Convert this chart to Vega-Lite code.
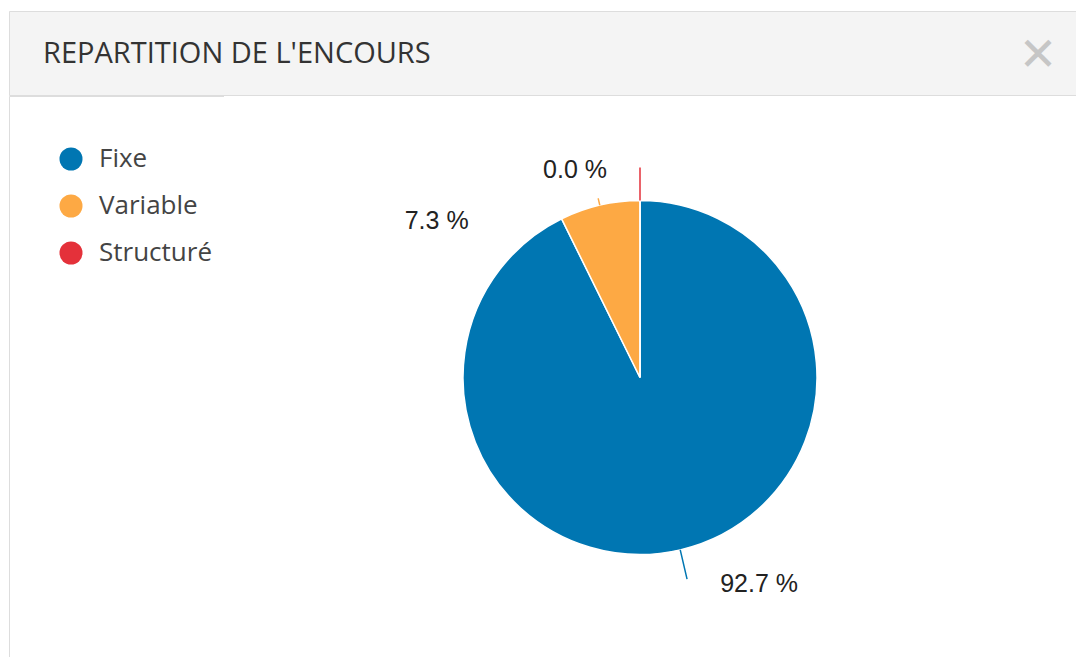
{
  "$schema": "https://vega.github.io/schema/vega-lite/v6.json",
  "padding": {"left": 8, "top": 10, "right": 0, "bottom": 0},
  "background": "#ffffff",
  "bounds": "flush",
  "spacing": 1,
  "config": {"view": {"stroke": null}},
  "vconcat": [
    {
      "width": 1068,
      "height": 84,
      "view": {"fill": "#f4f4f4", "stroke": "#dddddd"},
      "title": {
        "text": "REPARTITION DE L'ENCOURS",
        "anchor": "start",
        "orient": "top",
        "offset": -58,
        "dx": 34,
        "font": "Open Sans",
        "fontSize": 29,
        "fontWeight": "normal",
        "color": "#333333"
      },
      "data": {"values": [{"icon": "✕"}]},
      "mark": {"type": "text", "font": "DejaVu Sans", "fontSize": 46, "color": "#c6c6c6", "align": "center", "baseline": "middle", "dx": -39, "dy": 3},
      "encoding": {"x": {"value": "width"}, "text": {"field": "icon"}}
    },
    {
      "bounds": "flush",
      "spacing": -2,
      "resolve": {"scale": {"color": "independent", "theta": "independent"}, "legend": {"color": "independent"}},
      "hconcat": [
        {
          "width": 215,
          "height": 563,
          "view": {"fill": "#ffffff", "stroke": "#dddddd"},
          "data": {"values": [
            {"cat": "Fixe", "value": 92.7},
            {"cat": "Variable", "value": 7.3},
            {"cat": "Structuré", "value": 0}
          ]},
          "mark": {"type": "text", "text": ""},
          "encoding": {
            "color": {
              "field": "cat", "type": "nominal",
              "scale": {"domain": ["Fixe", "Variable", "Structuré"], "range": ["#0076b2", "#fda944", "#e4313a"]},
              "legend": {
                "title": null, "orient": "none", "legendX": 49, "legendY": 50,
                "symbolType": "circle", "symbolSize": 530, "symbolStrokeWidth": 0, "symbolOpacity": 1,
                "labelFont": "Open Sans", "labelFontSize": 26, "labelColor": "#444444",
                "labelOffset": 15, "rowPadding": 21, "padding": 0
              }
            }
          }
        },
        {
          "width": 832,
          "height": 563,
          "view": {"fill": "#ffffff", "stroke": null},
          "data": {"values": [
            {"cat": "Fixe", "value": 92.7, "label": "92.7 %"},
            {"cat": "Variable", "value": 7.3, "label": "7.3 %"},
            {"cat": "Structuré", "value": 0, "label": "0.0 %"}
          ]},
          "resolve": {"scale": {"theta": "independent"}},
          "layer": [
            {
              "mark": {"type": "arc", "radius": 177, "stroke": "#ffffff", "strokeWidth": 1.5},
              "encoding": {
                "theta": {"field": "value", "type": "quantitative", "stack": true},
                "order": {"field": "value", "sort": "descending"},
                "color": {
                  "field": "cat", "type": "nominal",
                  "scale": {"domain": ["Fixe", "Variable", "Structuré"], "range": ["#0076b2", "#fda944", "#e4313a"]},
                  "legend": null
                }
              }
            },
            {
              "mark": {"type": "arc", "radius": 207, "radius2": 177, "filled": false, "stroke": "#0076b2", "strokeWidth": 1.5},
              "encoding": {
                "theta": {"field": "value", "type": "quantitative", "stack": null, "scale": {"domain": [0, 200]}},
                "theta2": {"field": "value"},
                "strokeOpacity": {"condition": {"test": "datum.cat === 'Fixe'", "value": 1}, "value": 0}
              }
            },
            {
              "mark": {"type": "arc", "radius": 184, "radius2": 177, "padAngle": 0.6, "filled": false, "stroke": "#fda944", "strokeWidth": 1.5},
              "encoding": {
                "theta": {"field": "value", "type": "quantitative", "stack": true},
                "order": {"field": "value", "sort": "descending"},
                "detail": {"field": "cat"},
                "strokeOpacity": {"condition": {"test": "datum.cat === 'Variable'", "value": 1}, "value": 0}
              }
            },
            {
              "mark": {"type": "arc", "radius": 210, "radius2": 177, "filled": false, "stroke": "#e4313a", "strokeWidth": 1.5},
              "encoding": {
                "theta": {"field": "value", "type": "quantitative", "stack": true},
                "order": {"field": "value", "sort": "descending"},
                "detail": {"field": "cat"},
                "strokeOpacity": {"condition": {"test": "datum.cat === 'Structuré'", "value": 1}, "value": 0}
              }
            },
            {
              "mark": {"type": "text", "radius": 212, "align": "left", "baseline": "middle", "dx": 32, "font": "Liberation Sans", "fontSize": 25, "color": "#222222"},
              "encoding": {
                "theta": {"field": "value", "type": "quantitative", "stack": true},
                "order": {"field": "value", "sort": "descending"},
                "detail": {"field": "cat"},
                "text": {"condition": {"test": "datum.cat === 'Fixe'", "field": "label"}, "value": ""}
              }
            },
            {
              "mark": {"type": "text", "radius": 182, "align": "right", "baseline": "middle", "dx": -130, "dy": 21, "font": "Liberation Sans", "fontSize": 25, "color": "#222222"},
              "encoding": {
                "theta": {"field": "value", "type": "quantitative", "stack": true},
                "order": {"field": "value", "sort": "descending"},
                "detail": {"field": "cat"},
                "text": {"condition": {"test": "datum.cat === 'Variable'", "field": "label"}, "value": ""}
              }
            },
            {
              "mark": {"type": "text", "radius": 208, "align": "right", "baseline": "middle", "dx": -33, "font": "Liberation Sans", "fontSize": 25, "color": "#222222"},
              "encoding": {
                "theta": {"field": "value", "type": "quantitative", "stack": true},
                "order": {"field": "value", "sort": "descending"},
                "detail": {"field": "cat"},
                "text": {"condition": {"test": "datum.cat === 'Structuré'", "field": "label"}, "value": ""}
              }
            }
          ]
        }
      ]
    }
  ]
}
